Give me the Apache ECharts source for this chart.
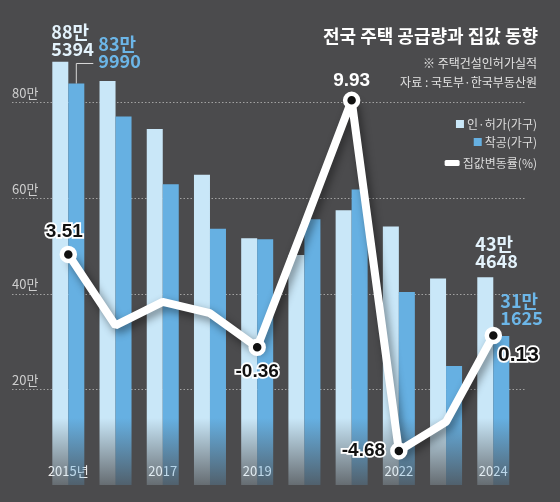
<!DOCTYPE html>
<html>
<head>
<meta charset="utf-8">
<script src="https://cdn.jsdelivr.net/npm/echarts@6.0.0/dist/echarts.min.js"></script>
<style>
	html, body { margin: 0; padding: 0; background: #4b4b4d; }
	#chart { width: 560px; height: 502px; }
</style>
</head>
<body>
<div id="chart"></div>
<script>
/* data (가구, %) */
var years = ['2015', '2016', '2017', '2018', '2019', '2020', '2021', '2022', '2023', '2024'];
var yearLabels = ['2015년', '', '2017', '', '2019', '', '', '2022', '', '2024'];
var permits = [885394, 845000, 745000, 649000, 516000, 481000, 575000, 541000, 432000, 434648];
var starts = [839990, 771000, 629000, 536000, 514000, 556000, 618000, 404000, 249000, 311625];
var priceChange = [3.51, 0.55, 1.53, 1.06, -0.36, 4.75, 9.93, -4.68, -3.47, 0.13];
var gridTicks = [200000, 800000, 200000]; // min, max, interval

var NARROW = "'Liberation Sans Narrow','Noto Sans CJK KR',sans-serif";
var BOLD = "'Liberation Sans','Noto Sans CJK KR',sans-serif";
var KR = "'Noto Sans CJK KR',sans-serif";

function manLabel(v){
	return Math.floor(v / 10000) + '만\n' + String(v % 10000).padStart(4, '0');
}

function fade(color){
	return new echarts.graphic.LinearGradient(0, 418, 0, 488, [
		{ offset: 0, color: color },
		{ offset: 1, color: echarts.color.modifyAlpha(color, 0.18) }
	], true);
}

// labels of the bars (first and last year only)
var barLabel = {
	permits: {
		0: { position: [-1, -38] },
		9: { position: [-2, -42] }
	},
	starts: {
		0: { position: [30, -48] },
		9: { position: [7, -43] }
	}
};

// labels of the line points
var pointLabel = {
	0: { position: 'top', offset: [-4, 1] },
	4: { position: 'bottom', offset: [0, 1] },
	6: { position: 'top', offset: [0, 4], color: '#fff', textBorderWidth: 0 },
	7: { position: 'left', offset: [0, 0] },
	9: { position: 'right', offset: [-9, 20], fontSize: 21 }
};

function barData(values, labels, color){
	return values.map(function(v, i){
		if(!labels[i]) return v;
		return {
			value: v,
			label: {
				show: true,
				position: labels[i].position,
				align: 'left',
				verticalAlign: 'top',
				formatter: function(p){ return manLabel(p.value); },
				color: color,
				fontFamily: NARROW,
				fontWeight: 'bold',
				fontSize: 18,
				lineHeight: 17
			}
		};
	});
}

function lineData(){
	return priceChange.map(function(v, i){
		var cfg = pointLabel[i];
		if(!cfg) return { value: v, symbol: 'none' };
		return {
			value: v,
			label: Object.assign({
				show: true,
				formatter: function(p){ return p.value.toFixed(2); },
				color: '#111',
				fontFamily: BOLD,
				fontWeight: 'bold',
				fontSize: 19,
				textBorderColor: '#fff',
				textBorderWidth: 3.5
			}, cfg)
		};
	});
}

function graphic1(){
	var dom = document.getElementById('chart');
	var myChart = echarts.init(dom, null, {
		renderer: 'canvas',
		useDirtyRect: false
	});

	var option;
	var legendText = { color: '#ddd', fontFamily: KR, fontSize: 12, padding: [0, 0, 0, -2] };

	option = {
		backgroundColor: '#4b4b4d',
		animation: false,
		title: [
			{
				text: '전국 주택 공급량과 집값 동향',
				right: 17,
				top: 22,
				textStyle: { color: '#fff', fontFamily: KR, fontWeight: 'bold', fontSize: 18 }
			},
			{
				text: '※ 주택건설인허가실적',
				right: 18,
				top: 52,
				textStyle: { color: '#e2e2e2', fontFamily: KR, fontWeight: 'normal', fontSize: 12 }
			},
			{
				text: '자료 : 국토부·한국부동산원',
				right: 18,
				top: 71,
				textStyle: { color: '#e2e2e2', fontFamily: KR, fontWeight: 'normal', fontSize: 12 }
			}
		],
		legend: [
			{
				data: ['인·허가(가구)'], right: 18, top: 113,
				icon: 'rect', itemWidth: 8, itemHeight: 8, itemGap: 0,
				textStyle: legendText
			},
			{
				data: ['착공(가구)'], right: 18, top: 131,
				icon: 'rect', itemWidth: 8, itemHeight: 8, itemGap: 0,
				textStyle: legendText
			},
			{
				data: [{ name: '집값변동률(%)', itemStyle: { color: '#fff', borderWidth: 0 } }],
				right: 18, top: 152,
				icon: 'roundRect', itemWidth: 15, itemHeight: 6, itemGap: 0,
				textStyle: legendText
			}
		],
		grid: [
			{ left: 12, right: 35, top: 102.6, bottom: 112.6 },
			{ left: 44.7, right: 43.1, top: 7, bottom: 17 }
		],
		xAxis: [
			{ gridIndex: 0, type: 'value', min: 0, max: 1, show: false },
			{
				gridIndex: 1,
				type: 'category',
				data: years,
				axisLine: { show: false },
				axisTick: { show: false },
				axisLabel: {
					inside: true,
					margin: 7,
					interval: 0,
					color: '#eee',
					fontFamily: NARROW,
					fontSize: 13,
					formatter: function(v, i){ return yearLabels[i]; }
				}
			}
		],
		yAxis: [
			{
				gridIndex: 0,
				type: 'value',
				min: gridTicks[0],
				max: gridTicks[1],
				interval: gridTicks[2],
				axisLine: { show: false },
				axisTick: { show: false },
				axisLabel: {
					inside: true,
					margin: 0,
					verticalAlign: 'bottom',
					padding: [0, 0, 3, 0],
					color: '#cfcfcf',
					fontFamily: NARROW,
					fontSize: 13,
					formatter: function(v){ return (v / 10000) + '만'; }
				},
				splitLine: {
					lineStyle: { color: 'rgba(220,220,220,0.6)', type: [1.5, 2], width: 1.2 }
				}
			},
			{ gridIndex: 1, type: 'value', min: 0, max: 1000000, show: false },
			{ gridIndex: 1, type: 'value', min: -6.1, max: 13.82, show: false }
		],
		series: [
			{
				name: '인·허가(가구)',
				type: 'bar',
				xAxisIndex: 1,
				yAxisIndex: 1,
				barWidth: 16,
				barGap: '0%',
				itemStyle: { color: fade('#c9e7f8') },
				data: barData(permits, barLabel.permits, '#e4f3fc'),
				silent: true
			},
			{
				name: '착공(가구)',
				type: 'bar',
				xAxisIndex: 1,
				yAxisIndex: 1,
				barWidth: 16,
				barGap: '0%',
				itemStyle: { color: fade('#66b0e2') },
				data: barData(starts, barLabel.starts, '#6cb6e8'),
				silent: true
			},
			{
				name: '집값변동률(%)',
				type: 'line',
				xAxisIndex: 1,
				yAxisIndex: 2,
				z: 5,
				symbol: 'circle',
				symbolSize: 13,
				showAllSymbol: true,
				itemStyle: { color: '#111', borderColor: '#fff', borderWidth: 4.5 },
				lineStyle: {
					color: '#fff',
					width: 8,
					shadowColor: 'rgba(0,0,0,0.45)',
					shadowBlur: 8,
					shadowOffsetX: 3,
					shadowOffsetY: 4
				},
				data: lineData(),
				silent: true
			}
		]
	};

	if (option && typeof option === 'object') {
		myChart.setOption(option);
	}

	// leader line for the first 착공 label
	var p = myChart.convertToPixel({ xAxisIndex: 1, yAxisIndex: 1 }, [0, starts[0]]);
	var bx = p[0] + 8;
	myChart.setOption({
		graphic: [{
			type: 'polyline',
			shape: { points: [[bx, p[1]], [bx, p[1] - 20], [bx + 17, p[1] - 20]] },
			style: { stroke: '#d8d8d8', lineWidth: 1, fill: null },
			z: 10
		}]
	});

	window.addEventListener('resize', myChart.resize);
}
graphic1()
</script>
</body>
</html>
